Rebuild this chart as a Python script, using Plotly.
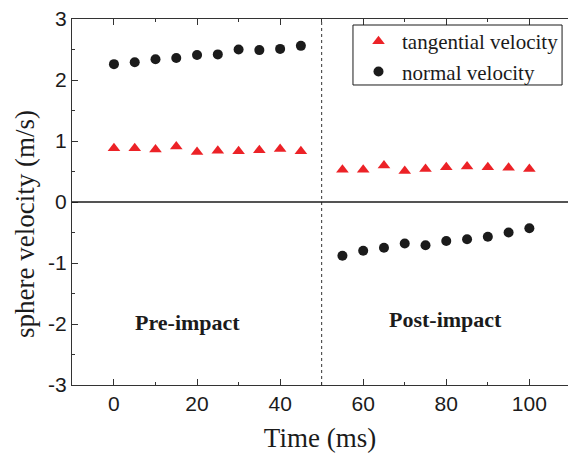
import plotly.graph_objects as go

# Sampling times (ms)
t_pre = [0, 5, 10, 15, 20, 25, 30, 35, 40, 45]
t_post = [55, 60, 65, 70, 75, 80, 85, 90, 95, 100]

# Sphere velocity components (m/s)
tan_pre = [0.88, 0.88, 0.86, 0.91, 0.82, 0.84, 0.83, 0.85, 0.87, 0.83]
tan_post = [0.53, 0.53, 0.60, 0.51, 0.54, 0.57, 0.58, 0.57, 0.56, 0.54]
norm_pre = [2.26, 2.29, 2.34, 2.36, 2.41, 2.42, 2.50, 2.49, 2.51, 2.56]
norm_post = [-0.88, -0.80, -0.75, -0.68, -0.71, -0.64, -0.61, -0.57, -0.50, -0.43]

x_ticks = [0, 20, 40, 60, 80, 100]
y_ticks = [-3, -2, -1, 0, 1, 2, 3]
y_tick_text = ["-3", "-2", "-1", "0", "1", "2", "3"]

RED = "#ec2227"
BLACK = "#1b1b1b"
SERIF = "Liberation Serif"
SANS = "Liberation Sans"

fig = go.Figure()
fig.add_trace(go.Scatter(
    x=t_pre + t_post, y=tan_pre + tan_post, mode="markers",
    name="tangential velocity",
    marker=dict(symbol="triangle-up", size=11, color=RED),
))
fig.add_trace(go.Scatter(
    x=t_pre + t_post, y=norm_pre + norm_post, mode="markers",
    name="normal velocity",
    marker=dict(symbol="circle", size=10, color=BLACK),
))

# impact instant and zero reference
fig.add_shape(type="line", xref="x", yref="paper", x0=50, x1=50, y0=0, y1=1,
              line=dict(color="#333333", width=1, dash="dot"))
fig.add_shape(type="line", xref="paper", yref="y", x0=0, x1=1, y0=0, y1=0,
              line=dict(color=BLACK, width=1.5))

# legend frame
fig.add_shape(type="rect", xref="paper", yref="paper",
              x0=0.5665, x1=0.988, y0=0.8197, y1=0.9836,
              line=dict(color=BLACK, width=1), fillcolor="rgba(0,0,0,0)", layer="above")

fig.add_annotation(x=17.8, y=-1.97, text="<b>Pre-impact</b>", showarrow=False,
                   font=dict(family=SERIF, size=22, color=BLACK))
fig.add_annotation(x=79.7, y=-1.92, text="<b>Post-impact</b>", showarrow=False,
                   font=dict(family=SERIF, size=22, color=BLACK))

# y-axis title
fig.add_annotation(xref="paper", yref="paper", x=-0.0948, y=0.44,
                   xanchor="center", yanchor="middle", textangle=-90,
                   text="sphere velocity (m/s)", showarrow=False,
                   font=dict(family=SERIF, size=27, color=BLACK))

fig.update_xaxes(
    range=[-10.1, 109.3], tickvals=x_ticks, ticks="inside", ticklen=6,
    tickcolor="#333333", showline=True, linecolor="#333333", linewidth=1,
    mirror="ticks", showgrid=False, zeroline=False,
    minor=dict(dtick=10, tick0=0, ticks="inside", ticklen=3, tickcolor="#333333"),
    tickfont=dict(family=SANS, size=21, color=BLACK),
    title=dict(text="Time (ms)", font=dict(family=SERIF, size=27, color=BLACK), standoff=13),
)
fig.update_yaxes(
    range=[-3, 3], tickvals=y_ticks, ticktext=y_tick_text, ticks="inside", ticklen=6,
    tickcolor="#333333", showline=True, linecolor="#333333", linewidth=1,
    showgrid=False, zeroline=False,
    minor=dict(dtick=0.5, tick0=0, ticks="inside", ticklen=3, tickcolor="#333333"),
    tickfont=dict(family=SANS, size=21, color=BLACK),
)

fig.update_layout(
    width=568, height=455,
    margin=dict(l=72, r=0, t=19, b=70, autoexpand=False),
    paper_bgcolor="white", plot_bgcolor="white",
    font=dict(family=SERIF, color=BLACK),
    legend=dict(
        x=(355 - 72) / 496, y=0.9945, xanchor="left", yanchor="top",
        borderwidth=0, bgcolor="rgba(0,0,0,0)",
        font=dict(family=SERIF, size=21, color=BLACK),
        itemwidth=37, tracegroupgap=0,
    ),
)

fig.write_html("out.html")
